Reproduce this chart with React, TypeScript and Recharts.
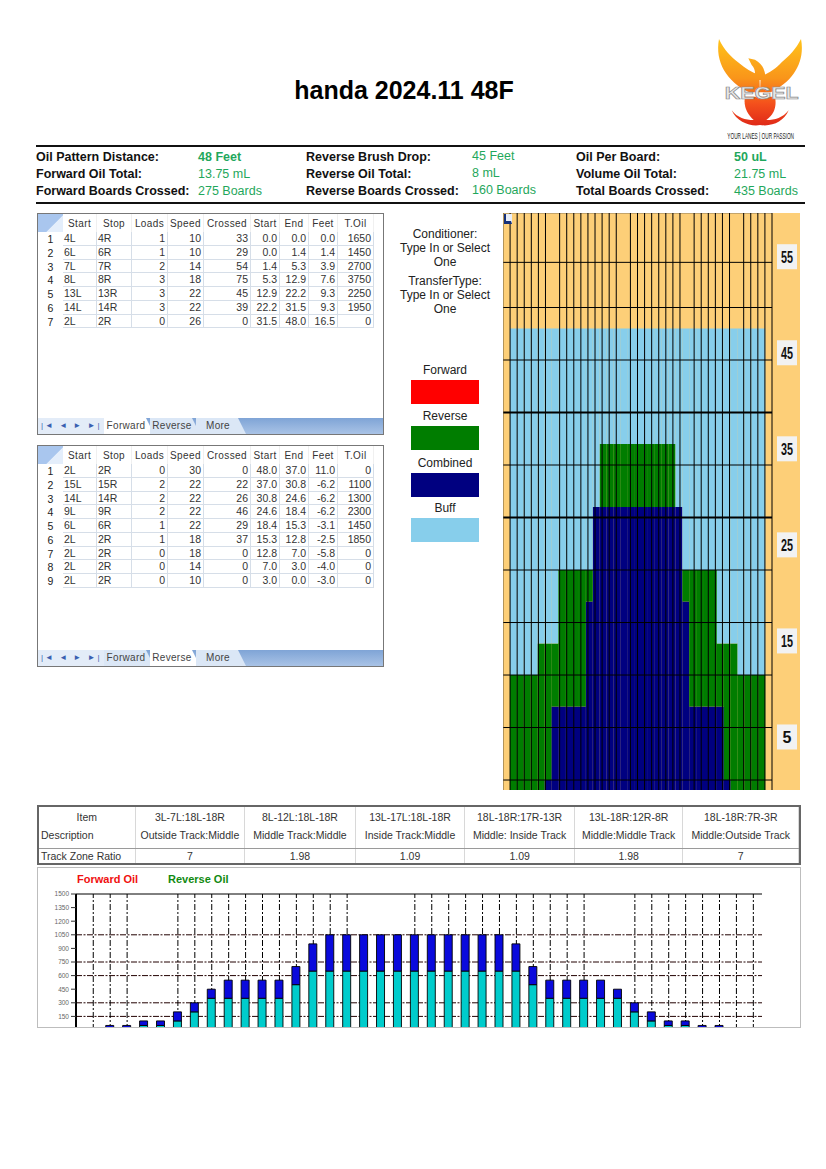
import { BarChart, Bar, XAxis, YAxis, ReferenceLine } from "recharts";

// Lane graph, one entry per board (feet of oil reached on that board)
const laneBoards = [
  1, 2, 3, 4, 5, 6, 7, 8, 9, 10, 11, 12, 13, 14, 15, 16, 17, 18, 19, 20,
  21, 22, 23, 24, 25, 26, 27, 28, 29, 30, 31, 32, 33, 34, 35, 36, 37, 38, 39,
];
const combinedFeet = [
  0, 0, 0, 0, 0, 1, 5, 12, 12, 12, 12, 12, 22, 31, 31, 31, 31, 31, 31, 31,
  31, 31, 31, 31, 31, 31, 22, 12, 12, 12, 12, 12, 5, 1, 0, 0, 0, 0, 0,
];
const reverseFeet = [
  0, 15, 15, 15, 15, 18, 18, 18, 25, 25, 25, 25, 25, 25, 37, 37, 37, 37, 37, 37,
  37, 37, 37, 37, 37, 25, 25, 25, 25, 25, 25, 18, 18, 18, 15, 15, 15, 15, 0,
];
const buffFeet = [
  0, 48, 48, 48, 48, 48, 48, 48, 48, 48, 48, 48, 48, 48, 48, 48, 48, 48, 48, 48,
  48, 48, 48, 48, 48, 48, 48, 48, 48, 48, 48, 48, 48, 48, 48, 48, 48, 48, 0,
];
const laneEdges = [
  0, 1, 2, 3, 4, 5, 6, 8, 9, 10, 11, 12, 13, 14, 15, 16, 18, 19, 20, 21, 22,
  23, 24, 25, 27, 28, 29, 30, 31, 32, 34, 35, 36, 37, 38, 39,
];
const laneFeetLines = [5, 10, 15, 20, 25, 35, 45, 50, 54.3];
const laneFeetHeavy = [30, 40];
const laneFeetLabels = [5, 15, 25, 35, 45, 55];

// Oil graph, boards 1 to 40 (uL)
const oilBoards = [
  1, 2, 3, 4, 5, 6, 7, 8, 9, 10, 11, 12, 13, 14, 15, 16, 17, 18, 19, 20,
  21, 22, 23, 24, 25, 26, 27, 28, 29, 30, 31, 32, 33, 34, 35, 36, 37, 38, 39, 40,
];
const forwardOil = [
  0, 0, 0, 50, 50, 100, 200, 350, 350, 350, 350, 350, 500, 650, 650, 650, 650, 650, 650, 650,
  650, 650, 650, 650, 650, 650, 500, 350, 350, 350, 350, 350, 200, 100, 50, 50, 0, 0, 0, 0,
];
const reverseOil = [
  0, 50, 50, 50, 50, 100, 100, 100, 200, 200, 200, 200, 200, 300, 400, 400, 400, 400, 400, 400,
  400, 400, 400, 400, 400, 300, 200, 200, 200, 200, 200, 100, 100, 100, 50, 50, 50, 50, 0, 0,
];
const oilTicks = [150, 300, 450, 600, 750, 900, 1050, 1200, 1350, 1500];
const oilGridValues = [150, 300, 600, 750, 1050];
const oilGridBoards = [
  1, 2, 3, 6, 7, 8, 9, 10, 11, 12, 13, 14, 15, 16, 20, 21, 22, 23, 24, 25,
  26, 27, 28, 29, 30, 33, 34, 35, 36, 37, 38, 39, 40,
];

// Tables
const gridHeaders = ["Start", "Stop", "Loads", "Speed", "Crossed", "Start", "End", "Feet", "T.Oil"];
const forwardRows = [
  ["4L", "4R", "1", "10", "33", "0.0", "0.0", "0.0", "1650"],
  ["6L", "6R", "1", "10", "29", "0.0", "1.4", "1.4", "1450"],
  ["7L", "7R", "2", "14", "54", "1.4", "5.3", "3.9", "2700"],
  ["8L", "8R", "3", "18", "75", "5.3", "12.9", "7.6", "3750"],
  ["13L", "13R", "3", "22", "45", "12.9", "22.2", "9.3", "2250"],
  ["14L", "14R", "3", "22", "39", "22.2", "31.5", "9.3", "1950"],
  ["2L", "2R", "0", "26", "0", "31.5", "48.0", "16.5", "0"],
];
const reverseRows = [
  ["2L", "2R", "0", "30", "0", "48.0", "37.0", "11.0", "0"],
  ["15L", "15R", "2", "22", "22", "37.0", "30.8", "-6.2", "1100"],
  ["14L", "14R", "2", "22", "26", "30.8", "24.6", "-6.2", "1300"],
  ["9L", "9R", "2", "22", "46", "24.6", "18.4", "-6.2", "2300"],
  ["6L", "6R", "1", "22", "29", "18.4", "15.3", "-3.1", "1450"],
  ["2L", "2R", "1", "18", "37", "15.3", "12.8", "-2.5", "1850"],
  ["2L", "2R", "0", "18", "0", "12.8", "7.0", "-5.8", "0"],
  ["2L", "2R", "0", "14", "0", "7.0", "3.0", "-4.0", "0"],
  ["2L", "2R", "0", "10", "0", "3.0", "0.0", "-3.0", "0"],
];
const gridColumnWidths = [25, 34, 35, 36, 36, 47, 29, 29, 29, 36];
const tabNames = ["Forward", "Reverse", "More"];

const infoRows = [
  ["Oil Pattern Distance:", "48 Feet", "Reverse Brush Drop:", "45 Feet", "Oil Per Board:", "50 uL"],
  ["Forward Oil Total:", "13.75 mL", "Reverse Oil Total:", "8 mL", "Volume Oil Total:", "21.75 mL"],
  ["Forward Boards Crossed:", "275 Boards", "Reverse Boards Crossed:", "160 Boards", "Total Boards Crossed:", "435 Boards"],
];

const trackItems = ["3L-7L:18L-18R", "8L-12L:18L-18R", "13L-17L:18L-18R", "18L-18R:17R-13R", "13L-18R:12R-8R", "18L-18R:7R-3R"];
const trackDescriptions = ["Outside Track:Middle", "Middle Track:Middle", "Inside Track:Middle", "Middle: Inside Track", "Middle:Middle Track", "Middle:Outside Track"];
const trackRatios = ["7", "1.98", "1.09", "1.09", "1.98", "7"];
const trackWidths = [110, 111, 110, 110, 109, 116];

const legendItems = [
  { name: "Forward", color: "#ff0000" },
  { name: "Reverse", color: "#007d00" },
  { name: "Combined", color: "#000080" },
  { name: "Buff", color: "#87ceeb" },
];

const laneData = laneBoards.map((board, i) => ({
  board,
  combined: combinedFeet[i],
  reverse: Math.max(reverseFeet[i] - combinedFeet[i], 0),
  buff: buffFeet[i] - Math.max(reverseFeet[i], combinedFeet[i]),
}));

const oilData = oilBoards.map((board, i) => ({
  board,
  forward: forwardOil[i],
  reverse: reverseOil[i],
}));

const SANS = '"Liberation Sans", Arial, sans-serif';

function FeetLabel({ x, y, payload }: any) {
  return (
    <g>
      <rect x={x - 3} y={y - 12.5} width={20} height={25} fill="#f2f2f2" />
      <text
        x={x + 7}
        y={y + 6}
        textAnchor="middle"
        fontFamily={SANS}
        fontWeight="bold"
        fontSize={16}
        fill="#111"
        textLength={payload.value < 10 ? undefined : 12}
        lengthAdjust="spacingAndGlyphs"
      >
        {payload.value}
      </text>
    </g>
  );
}

function LaneChart() {
  return (
    <div style={{ position: "absolute", left: 503, top: 213, width: 297, height: 577, background: "#fdcf78" }}>
      <BarChart
        width={297}
        height={577}
        data={laneData}
        barCategoryGap={0}
        margin={{ top: 0, right: 0, bottom: 0, left: 0 }}
      >
        <XAxis xAxisId="boards" dataKey="board" hide />
        <XAxis xAxisId="edges" type="number" domain={[0, 39]} hide />
        <YAxis yAxisId="feet" type="number" domain={[4.05, 59]} allowDataOverflow hide />
        <YAxis
          yAxisId="labels"
          orientation="right"
          type="number"
          width={28}
          domain={[-0.52, 59.55]}
          allowDataOverflow
          ticks={laneFeetLabels}
          interval={0}
          axisLine={false}
          tickLine={false}
          tick={<FeetLabel />}
        />
        <Bar xAxisId="boards" yAxisId="feet" dataKey="combined" stackId="lane" fill="#000080" isAnimationActive={false} />
        <Bar xAxisId="boards" yAxisId="feet" dataKey="reverse" stackId="lane" fill="#007d00" isAnimationActive={false} />
        <Bar xAxisId="boards" yAxisId="feet" dataKey="buff" stackId="lane" fill="#87ceeb" isAnimationActive={false} />
        {laneFeetLines.map((f) => (
          <ReferenceLine key={f} xAxisId="edges" yAxisId="feet" y={f} stroke="#000" strokeWidth={1} />
        ))}
        {laneFeetHeavy.map((f) => (
          <ReferenceLine key={f} xAxisId="edges" yAxisId="feet" y={f} stroke="#000" strokeWidth={2} />
        ))}
        <ReferenceLine xAxisId="edges" yAxisId="feet" y={59} stroke="#8a7a5c" strokeWidth={1} />
        {laneEdges.map((e) => (
          <ReferenceLine
            key={e}
            xAxisId="edges"
            yAxisId="feet"
            x={e}
            stroke={e === 0 ? "#6b5a3a" : "#000"}
            strokeWidth={1}
          />
        ))}
      </BarChart>
      <div
        style={{
          position: "absolute",
          left: 1,
          top: 1,
          width: 5,
          height: 7,
          background: "#e8eef8",
          borderLeft: "2px solid #14307a",
          borderRight: "1px solid #e8eef8",
          borderBottom: "3px solid #14307a",
        }}
      />
    </div>
  );
}

function OilChart() {
  return (
    <div
      style={{
        position: "absolute",
        left: 37,
        top: 867,
        width: 762,
        height: 159,
        border: "1px solid #bdbdbd",
        overflow: "hidden",
        background: "#fff",
      }}
    >
      <div style={{ position: "absolute", left: 39, top: 5, fontFamily: SANS, fontWeight: "bold", fontSize: 11, color: "#f01010" }}>
        Forward Oil
      </div>
      <div style={{ position: "absolute", left: 130, top: 5, fontFamily: SANS, fontWeight: "bold", fontSize: 11, color: "#118a11" }}>
        Reverse Oil
      </div>
      <div style={{ position: "absolute", left: -1, top: 17 }}>
        <BarChart
          width={763}
          height={145}
          data={oilData}
          barSize={8}
          margin={{ top: 9, right: 38, bottom: 0, left: 9 }}
        >
          <XAxis dataKey="board" hide padding={{ left: 8.8, right: 0.2 }} />
          <YAxis
            type="number"
            width={30}
            domain={[0, 1500]}
            ticks={oilTicks}
            interval={0}
            axisLine={{ stroke: "#000", strokeWidth: 2 }}
            tickLine={{ stroke: "#333" }}
            tickSize={5}
            tick={{ fontFamily: SANS, fontSize: 6.5, fill: "#666" }}
          />
          <YAxis yAxisId="frame" orientation="right" type="number" width={0} domain={[0, 1500]} tick={false} tickLine={false} axisLine={{ stroke: "#000" }} />
          <ReferenceLine y={1500} stroke="#000" strokeWidth={1} zIndex={100} />
          {oilGridValues.map((v) => (
            <ReferenceLine key={v} y={v} stroke="#200" strokeDasharray="6 1.5 2 1.5" zIndex={100} />
          ))}
          {oilGridBoards.map((b) => (
            <ReferenceLine key={b} x={b} stroke="#000" strokeDasharray="6 2 2 2" zIndex={100} />
          ))}
          <Bar dataKey="forward" stackId="oil" fill="#00cccc" stroke="#000" strokeWidth={0.9} isAnimationActive={false} />
          <Bar dataKey="reverse" stackId="oil" fill="#0a0adc" stroke="#000" strokeWidth={0.9} isAnimationActive={false} />
        </BarChart>
      </div>
    </div>
  );
}

function DataGrid({ top, height, rows, activeTab }: { top: number; height: number; rows: string[][]; activeTab: number }) {
  const cellLine = "1px solid #d6dee8";
  return (
    <div
      style={{
        position: "absolute",
        left: 37,
        top,
        width: 345,
        height,
        border: "1px solid #777",
        background: "#fff",
        overflow: "hidden",
        fontFamily: SANS,
        fontSize: 10,
        color: "#333",
      }}
    >
      <div style={{ display: "flex", height: 18 }}>
        {[""].concat(gridHeaders).map((h, i) => (
          <div
            key={i}
            style={{
              width: gridColumnWidths[i],
              textAlign: "center",
              lineHeight: "19px",
              background: i === 0 ? "linear-gradient(135deg, #a9c6ee 60%, #e4eefb 62%)" : "#fff",
              borderRight: i === 0 ? "none" : "1px solid #f0f0f0",
              boxSizing: "border-box",
              letterSpacing: 0.4,
              whiteSpace: "nowrap",
            }}
          >
            {h}
          </div>
        ))}
      </div>
      {rows.map((row, r) => (
        <div key={r} style={{ display: "flex", height: 13.75 }}>
          <div style={{ width: gridColumnWidths[0], textAlign: "center", lineHeight: "14px", color: "#222", fontSize: 10.5 }}>{r + 1}</div>
          {row.map((cell, c) => (
            <div
              key={c}
              style={{
                width: gridColumnWidths[c + 1],
                boxSizing: "border-box",
                textAlign: c < 2 ? "left" : "right",
                paddingLeft: c < 2 ? 1 : 0,
                paddingRight: c < 2 ? 0 : 2,
                lineHeight: "13.5px",
                borderRight: cellLine,
                borderBottom: cellLine,
                fontSize: 10.5,
              }}
            >
              {cell}
            </div>
          ))}
        </div>
      ))}
      <div
        style={{
          position: "absolute",
          left: 0,
          bottom: 0,
          width: "100%",
          height: 16,
          background: "linear-gradient(#7fa4d6, #a9c3e6)",
        }}
      >
        <div style={{ position: "absolute", left: 0, top: 0, width: 66, height: 16, background: "#e3ecf8", color: "#3a5fb0", fontSize: 8, lineHeight: "16px", letterSpacing: 2, paddingLeft: 3, boxSizing: "border-box", whiteSpace: "nowrap" }}>
          {"|\u25C4 \u25C4 \u25BA \u25BA|"}
        </div>
        {tabNames.map((t, i) => (
          <div
            key={t}
            style={{
              position: "absolute",
              left: 66 + i * 46,
              top: 0,
              width: 50,
              height: 16,
              paddingRight: 6,
              boxSizing: "border-box",
              textAlign: "center",
              lineHeight: "16px",
              background: i === activeTab ? "#fff" : "#dbe7f6",
              color: "#444",
              fontSize: 10,
              letterSpacing: 0.3,
              clipPath: "polygon(0 0, 84% 0, 100% 100%, 0 100%)",
            }}
          >
            {t}
          </div>
        ))}
      </div>
    </div>
  );
}

function InfoBlock() {
  const columns = [36, 198, 306, 472, 576, 734];
  const rowsY = [149, 166, 183];
  return (
    <>
      <div style={{ position: "absolute", left: 36, top: 145, width: 769, height: 2, background: "#111" }} />
      <div style={{ position: "absolute", left: 36, top: 202, width: 769, height: 2, background: "#111" }} />
      {infoRows.map((row, r) =>
        row.map((cell, c) => (
          <div
            key={`${r}-${c}`}
            style={{
              position: "absolute",
              left: columns[c],
              top: rowsY[r] + (c === 3 ? -1 : 0),
              fontFamily: SANS,
              fontSize: 12.5,
              lineHeight: "16px",
              whiteSpace: "nowrap",
              fontWeight: c % 2 === 0 || (r === 0 && c !== 3) ? "bold" : "normal",
              color: c % 2 === 0 ? "#111" : "#1fa75c",
            }}
          >
            {cell}
          </div>
        ))
      )}
    </>
  );
}

function TrackTable() {
  const border = "1px solid #9a9a9a";
  const cell = { boxSizing: "border-box" as const, textAlign: "center" as const, borderRight: "1px solid #d8d8d8", whiteSpace: "nowrap" as const, overflow: "hidden" };
  return (
    <div
      style={{
        position: "absolute",
        left: 37,
        top: 805,
        width: 760,
        height: 56,
        border: "2px solid #666",
        fontFamily: SANS,
        fontSize: 10.5,
        color: "#333",
        background: "#fff",
      }}
    >
      <div style={{ display: "flex", height: 41, borderBottom: border }}>
        <div style={{ ...cell, width: 97, lineHeight: "18px", paddingTop: 1 }}>
          Item
          <div style={{ textAlign: "left", paddingLeft: 2 }}>Description</div>
        </div>
        {trackItems.map((item, i) => (
          <div key={item} style={{ ...cell, width: trackWidths[i], lineHeight: "18px", paddingTop: 1 }}>
            {item}
            <br />
            {trackDescriptions[i]}
          </div>
        ))}
      </div>
      <div style={{ display: "flex", height: 14 }}>
        <div style={{ ...cell, width: 97, textAlign: "left", paddingLeft: 2, lineHeight: "15px" }}>Track Zone Ratio</div>
        {trackRatios.map((ratio, i) => (
          <div key={i} style={{ ...cell, width: trackWidths[i], lineHeight: "15px" }}>
            {ratio}
          </div>
        ))}
      </div>
    </div>
  );
}

function Logo() {
  return (
    <svg style={{ position: "absolute", left: 710, top: 35, overflow: "visible" }} width={100} height={110} viewBox="0 0 300 330">
      <defs>
        <linearGradient id="phoenix" x1="0" y1="15" x2="0" y2="270" gradientUnits="userSpaceOnUse">
          <stop offset="0" stopColor="#ffc21a" />
          <stop offset="0.45" stopColor="#f9951a" />
          <stop offset="0.75" stopColor="#f4501c" />
          <stop offset="1" stopColor="#e02a18" />
        </linearGradient>
      </defs>
      <g fill="url(#phoenix)">
        <path d="M27 12 C14 80 50 140 118 172 L150 172 L148 120 C125 112 105 100 88 85 C62 65 42 45 27 12Z" />
        <path d="M273 12 C286 80 250 140 182 172 L150 172 L152 125 C175 115 200 100 215 82 C238 62 258 42 273 12Z" />
        <path d="M115 70 L135 74 C155 85 165 100 168 135 L132 135 C138 115 135 100 125 90Z" />
        <path d="M105 185 L195 185 C200 212 195 236 168 256 L132 256 C110 236 100 212 105 185Z" />
        <path d="M65 226 C80 262 125 276 150 270 C185 276 222 260 236 226 C214 254 182 258 150 254 C120 258 86 254 65 226Z" />
      </g>
      <text
        x={155}
        y={192}
        textAnchor="middle"
        fontFamily={SANS}
        fontWeight="bold"
        fontSize={52}
        textLength={222}
        lengthAdjust="spacingAndGlyphs"
        fill="#e6e6e6"
        stroke="#8a8a8a"
        strokeWidth={2}
      >
        KEGEL
      </text>
      <text
        transform="translate(152 312) scale(1 1.6)"
        textAnchor="middle"
        fontFamily={SANS}
        fontSize={17}
        textLength={200}
        lengthAdjust="spacingAndGlyphs"
        fill="#222"
      >
        YOUR LANES | OUR PASSION
      </text>
    </svg>
  );
}

function MiddleLegend() {
  const swatchTops = [380, 426, 473, 518];
  return (
    <div style={{ fontFamily: SANS, fontSize: 12, color: "#222", lineHeight: "14px", textAlign: "center" }}>
      <div style={{ position: "absolute", left: 395, top: 227, width: 100 }}>
        Conditioner:
        <br />
        Type In or Select
        <br />
        One
      </div>
      <div style={{ position: "absolute", left: 395, top: 274, width: 100 }}>
        TransferType:
        <br />
        Type In or Select
        <br />
        One
      </div>
      {legendItems.map((item, i) => (
        <div key={item.name}>
          <div style={{ position: "absolute", left: 395, top: swatchTops[i] - 17, width: 100 }}>{item.name}</div>
          <div style={{ position: "absolute", left: 411, top: swatchTops[i], width: 68, height: 24, background: item.color }} />
        </div>
      ))}
    </div>
  );
}

export default function App() {
  return (
    <div style={{ position: "absolute", left: 0, top: 0, width: 826, height: 1169, background: "#fff", overflow: "hidden" }}>
      <div
        style={{
          position: "absolute",
          left: 200,
          top: 75,
          width: 408,
          textAlign: "center",
          fontFamily: SANS,
          fontWeight: "bold",
          fontSize: 25,
          lineHeight: "30px",
          color: "#000",
        }}
      >
        handa 2024.11 48F
      </div>
      <Logo />
      <InfoBlock />
      <DataGrid top={213} height={220} rows={forwardRows} activeTab={0} />
      <DataGrid top={445} height={220} rows={reverseRows} activeTab={1} />
      <MiddleLegend />
      <LaneChart />
      <TrackTable />
      <OilChart />
    </div>
  );
}
